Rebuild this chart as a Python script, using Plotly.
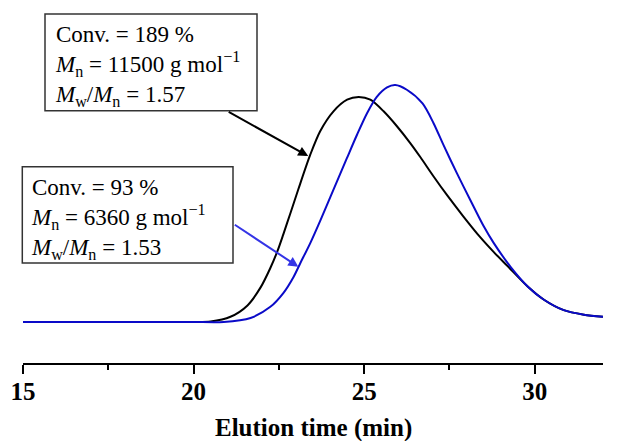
import plotly.graph_objects as go

# ---- data ----
black_t = [15, 17, 19, 20, 20.5, 21.08, 21.58, 21.96, 22.25, 22.46, 22.63, 22.84, 23.07, 23.42,
           23.71, 24.10, 24.50, 24.84, 25.18, 25.57, 25.96, 26.35, 26.65, 27.03, 27.43, 27.91,
           28.40, 28.80, 29.21, 29.80, 30.27, 30.85, 31.44, 32.0]
black_v = [0, 0, 0, 0, 0.002, 0.022, 0.07, 0.145, 0.228, 0.30, 0.37, 0.46, 0.56, 0.706,
           0.805, 0.889, 0.938, 0.949, 0.938, 0.889, 0.826, 0.755, 0.695, 0.615, 0.535, 0.445,
           0.358, 0.295, 0.235, 0.149, 0.094, 0.05, 0.031, 0.022]

blue_t = [15, 17, 19, 20, 20.88, 21.67, 22.25, 22.63, 22.93, 23.13, 23.42, 23.72, 24.01, 24.49,
          24.79, 25.08, 25.37, 25.67, 25.91, 26.25, 26.71, 27.03, 27.33, 27.72, 28.11, 28.50,
          28.79, 29.29, 29.80, 30.27, 30.85, 31.44, 32.0]
blue_v = [0, 0, 0, 0, 0.0, 0.017, 0.064, 0.122, 0.19, 0.249, 0.333, 0.43, 0.528, 0.69,
          0.79, 0.88, 0.95, 0.99, 1.0, 0.98, 0.922, 0.84, 0.745, 0.627, 0.515, 0.405,
          0.335, 0.233, 0.149, 0.094, 0.05, 0.031, 0.022]

x_ticks = [15, 20, 25, 30]
x_title = "Elution time (min)"

box1_lines = ["Conv. = 189 %",
              "<i>M</i><sub>n</sub> = 11500 g mol<sup>\u22121</sup>",
              "<i>M</i><sub>w</sub>/<i>M</i><sub>n</sub> = 1.57"]
box2_lines = ["Conv. = 93 %",
              "<i>M</i><sub>n</sub> = 6360 g mol<sup>\u22121</sup>",
              "<i>M</i><sub>w</sub>/<i>M</i><sub>n</sub> = 1.53"]

# ---- layout geometry ----
W, H = 632, 441
ML, MR, MT, MB = 23, 29, 10, 78
PW, PH = W - ML - MR, H - MT - MB
SERIF = "Liberation Serif, Times New Roman, serif"
BLUE = "#0a0ac8"


def px(x):
    return (x - ML) / PW


def py(y):
    return (H - MB - y) / PH


fig = go.Figure()
fig.add_trace(go.Scatter(x=black_t, y=black_v, mode="lines",
                         line=dict(color="black", width=2, shape="spline", smoothing=0.8),
                         hoverinfo="skip", showlegend=False))
fig.add_trace(go.Scatter(x=blue_t, y=blue_v, mode="lines",
                         line=dict(color=BLUE, width=2, shape="spline", smoothing=0.8),
                         hoverinfo="skip", showlegend=False))

# boxes
fig.add_shape(type="rect", xref="paper", yref="paper",
              x0=px(45), x1=px(257), y0=py(110.7), y1=py(14),
              line=dict(color="#333333", width=1.5), fillcolor="white")
fig.add_shape(type="rect", xref="paper", yref="paper",
              x0=px(22.3), x1=px(233), y0=py(263), y1=py(166.7),
              line=dict(color="#333333", width=1.5), fillcolor="white")

fig.add_annotation(xref="paper", yref="paper", x=px(54), y=py(20.5),
                   xanchor="left", yanchor="top", align="left", showarrow=False,
                   borderpad=0, text="<br>".join(box1_lines),
                   font=dict(family=SERIF, size=23, color="black"))
fig.add_annotation(xref="paper", yref="paper", x=px(30), y=py(174),
                   xanchor="left", yanchor="top", align="left", showarrow=False,
                   borderpad=0, text="<br>".join(box2_lines),
                   font=dict(family=SERIF, size=23, color="black"))

# axis title
fig.add_annotation(xref="paper", yref="paper", x=0.5, y=py(428.5),
                   xanchor="center", yanchor="middle", showarrow=False, borderpad=0,
                   text="<b>%s</b>" % x_title,
                   font=dict(family=SERIF, size=25, color="black"))

# arrows
fig.add_annotation(x=23.36, y=0.70, xref="x", yref="y", text="", showarrow=True,
                   ax=-81, ay=-45, arrowhead=2, arrowsize=1, arrowwidth=2,
                   arrowcolor="black", standoff=0)
fig.add_annotation(x=23.07, y=0.233, xref="x", yref="y", text="", showarrow=True,
                   ax=-65, ay=-43, arrowhead=2, arrowsize=1, arrowwidth=2,
                   arrowcolor="#3434e6", standoff=0)

fig.update_layout(
    width=W, height=H,
    margin=dict(l=ML, r=MR, t=MT, b=MB),
    paper_bgcolor="white", plot_bgcolor="white",
    xaxis=dict(range=[15, 32], tickvals=x_ticks, ticktext=[str(t) for t in x_ticks],
               showline=True, linecolor="black", linewidth=2,
               ticks="outside", ticklen=9, tickwidth=2, tickcolor="black",
               minor=dict(dtick=2.5, tick0=15, ticks="outside", ticklen=5, tickwidth=2,
                          tickcolor="black", showgrid=False),
               showgrid=False, zeroline=False, automargin=False,
               ticklabelstandoff=-4,
               tickfont=dict(family=SERIF, size=25, color="black", weight="bold")),
    yaxis=dict(visible=False, range=[-0.173, 1.3165]),
)

fig.write_html("out.html", config={"displayModeBar": False},
               post_script="document.body.style.margin='0';document.body.style.overflow='hidden';")
